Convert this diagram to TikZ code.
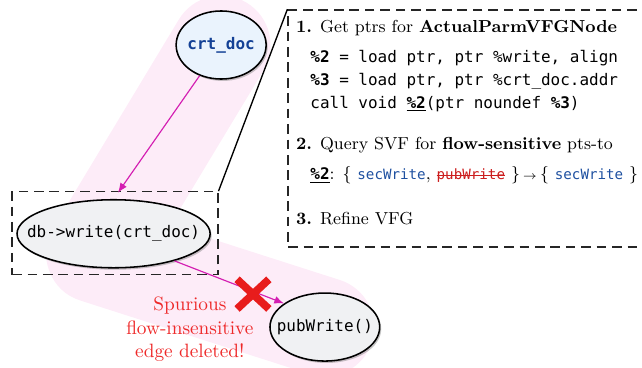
\documentclass[tikz,border=0pt]{standalone}
\usepackage{fontspec}
\setmonofont{DejaVu Sans Mono}[Scale=0.92]
\usepackage{xcolor}
\usetikzlibrary{shapes.geometric, arrows.meta, positioning, calc, backgrounds, shadows}

\definecolor{flowpink}{RGB}{212,30,178}
\definecolor{bandpink}{RGB}{253,236,248}
\definecolor{cutred}{RGB}{232,28,28}
\definecolor{notered}{RGB}{238,40,40}
\definecolor{strikered}{RGB}{204,30,30}
\definecolor{ptsblue}{RGB}{30,80,160}
\definecolor{varblue}{RGB}{20,65,150}
\definecolor{varfill}{RGB}{234,243,253}
\definecolor{callfill}{RGB}{240,241,243}

% tachado simple
\newcommand{\strk}[1]{\setbox0\hbox{#1}\rlap{\rule[0.5ex]{\wd0}{0.5pt}}\box0}
\newcommand{\fn}[1]{{\footnotesize\ttfamily\color{ptsblue}#1}}

\begin{document}
\begin{tikzpicture}[
  var/.style={
    ellipse, draw=black, fill=callfill, line width=0.8pt,
    inner ysep=0pt, inner xsep=-15pt, minimum height=1.24cm, font=\small\ttfamily,
    drop shadow={opacity=0.45, shadow xshift=0.8pt, shadow yshift=-1pt}
  },
  flow/.style={-{Latex[length=5pt,width=4pt]}, draw=flowpink, line width=0.6pt},
  zoom/.style={draw=black!85, dash pattern=on 5pt off 3pt, line width=0.7pt, inner sep=0pt},
  band/.style={draw=bandpink, line width=1.8cm, line cap=round, line join=round},
  cut/.style={draw=cutred, line width=4pt},
  txt/.style={anchor=base west, inner sep=0pt, font=\small},
  code/.style={anchor=base west, inner sep=0pt, font=\small\ttfamily}
]
\useasboundingbox (0,0) rectangle (11.70,-6.69);

% ── Nodos del grafo ──────────────────────────────────────────
\node[var, fill=varfill, text=varblue, font=\small\ttfamily\bfseries,
      minimum width=1.64cm] (crt) at (4.03,-0.82) {crt\_doc};
\node[var, minimum width=3.52cm] (write) at (2.07,-4.26) {db->write(crt\_doc)};
\node[var, minimum width=2.00cm] (pubw) at (5.92,-5.96) {pubWrite()};

% ── Cajas ────────────────────────────────────────────────────
\node[zoom, minimum width=3.75cm, minimum height=1.51cm] (zoombox) at (2.095,-4.25) {};
\node[zoom, minimum width=6.78cm, minimum height=4.32cm] (stepsbox) at (8.64,-2.34) {};
\draw[line width=0.7pt] (zoombox.north east) -- (stepsbox.north west);

% ── Pasos ────────────────────────────────────────────────────
\node[txt]  (s1)  at (5.39,-0.60) {\textbf{1.} Get ptrs for \textbf{ActualParmVFGNode}};
\node[code] (c1)  at (5.65,-1.13) {\textbf{\%2} = load ptr, ptr \%write, align};
\node[code] (c2)  at (5.65,-1.55) {\textbf{\%3} = load ptr, ptr \%crt\_doc.addr};
\node[code] (c3)  at (5.65,-1.97) {call void \underline{\textbf{\%2}}(ptr noundef \textbf{\%3})};
\node[txt]  (s2)  at (5.39,-2.73) {\textbf{2.} Query SVF for \textbf{flow-sensitive} pts-to};
\node[txt]  (pts) at (5.65,-3.28)
  {\underline{\texttt{\textbf{\%2}}}: $\{$ \fn{secWrite}, \textcolor{strikered}{\strk{\fn{\color{strikered}pubWrite}}} $\}\,{\scriptstyle\rightarrow}\,\{$ \fn{secWrite} $\}$};
\node[txt]  (s3)  at (5.39,-4.10) {\textbf{3.} Refine VFG};

% ── Banda de flujo ───────────────────────────────────────────
\coordinate (bend) at (1.74,-4.62);
\begin{scope}[on background layer]
  \draw[band] (crt.center) -- (bend) -- (pubw.center);
\end{scope}

% ── Flechas ──────────────────────────────────────────────────
\draw[flow, shorten >=4pt] (crt.235) -- (write.north);
\draw[flow] (write.336) -- (pubw.150);

% ── Arista eliminada ─────────────────────────────────────────
\coordinate (cut) at (4.61,-5.36);
\draw[cut] ($(cut)+(-0.29,0.27)$) -- ($(cut)+(0.29,-0.27)$);
\draw[cut] ($(cut)+(-0.29,-0.27)$) -- ($(cut)+(0.29,0.27)$);
\node[text=notered, align=center] (note) at (3.46,-6.00)
  {Spurious\\flow-insensitive\\edge deleted!};

\end{tikzpicture}
\end{document}
